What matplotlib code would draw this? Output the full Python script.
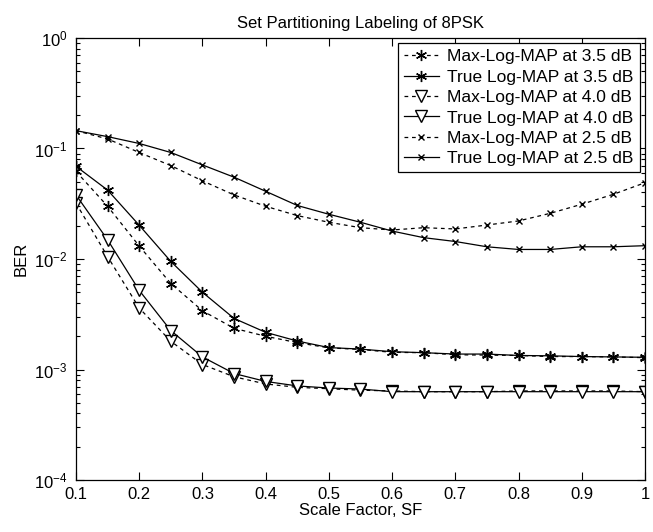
import matplotlib.pyplot as plt
from matplotlib.ticker import LogLocator, FixedLocator, NullFormatter

plt.rcParams['font.family'] = ['Liberation Sans', 'DejaVu Sans']
plt.rcParams['mathtext.fontset'] = 'custom'
plt.rcParams['mathtext.rm'] = 'Liberation Sans'

# scale factor SF
sf = [0.1, 0.15, 0.2, 0.25, 0.3, 0.35, 0.4, 0.45, 0.5, 0.55,
      0.6, 0.65, 0.7, 0.75, 0.8, 0.85, 0.9, 0.95, 1.0]

# BER curves
max_35 = [0.062, 0.030, 0.0131, 0.0060, 0.0034, 0.00236, 0.0020, 0.00175, 0.00157, 0.00152,
          0.00143, 0.00142, 0.00136, 0.00135, 0.00134, 0.00131, 0.00131, 0.00130, 0.00128]
true_35 = [0.069, 0.042, 0.0202, 0.0095, 0.0050, 0.0029, 0.00217, 0.00181, 0.00158, 0.00153,
           0.00145, 0.00142, 0.00138, 0.00138, 0.00134, 0.00133, 0.00131, 0.00130, 0.00129]
max_40 = [0.032, 0.0105, 0.0036, 0.0018, 0.00111, 0.00086, 0.00074, 0.00069, 0.00067, 0.00065,
          0.00064, 0.00063, 0.00063, 0.00063, 0.00064, 0.00064, 0.00064, 0.00064, 0.00063]
true_40 = [0.038, 0.0149, 0.0052, 0.00225, 0.0013, 0.00092, 0.00078, 0.00071, 0.00068, 0.000666,
           0.00063, 0.00063, 0.00063, 0.00063, 0.00063, 0.00063, 0.00063, 0.00063, 0.00063]
max_25 = [0.145, 0.122, 0.092, 0.070, 0.051, 0.038, 0.030, 0.0247, 0.0215, 0.0192,
          0.0183, 0.0192, 0.0187, 0.0203, 0.0221, 0.0259, 0.0313, 0.0385, 0.049]
true_25 = [0.145, 0.128, 0.111, 0.092, 0.071, 0.055, 0.041, 0.0305, 0.0254, 0.0215,
           0.0179, 0.0156, 0.0144, 0.0129, 0.0122, 0.0122, 0.0129, 0.0129, 0.0132]

labels = ['Max-Log-MAP at 3.5 dB', 'True Log-MAP at 3.5 dB',
          'Max-Log-MAP at 4.0 dB', 'True Log-MAP at 4.0 dB',
          'Max-Log-MAP at 2.5 dB', 'True Log-MAP at 2.5 dB']

fig = plt.figure(figsize=(6.53, 5.32), dpi=100)
ax = fig.add_axes([0.1164, 0.0977, 0.8713, 0.8309])

dash = (0, (3, 3))
star = (6, 2, 0)
kw = dict(color='black', linewidth=0.9)
tri = dict(marker='v', markersize=9, markerfacecolor='white', markeredgecolor='black')

ax.semilogy(sf, max_35, linestyle=dash, marker=star, markersize=8, label=labels[0], **kw)
ax.semilogy(sf, true_35, linestyle='-', marker=star, markersize=8, label=labels[1], **kw)
ax.semilogy(sf, max_40, linestyle=dash, label=labels[2], **tri, **kw)
ax.semilogy(sf, true_40, linestyle='-', label=labels[3], **tri, **kw)
ax.semilogy(sf, max_25, linestyle=dash, marker='x', markersize=5, label=labels[4], **kw)
ax.semilogy(sf, true_25, linestyle='-', marker='x', markersize=5, label=labels[5], **kw)

ax.set_xlim(0.1, 1.0)
ax.set_ylim(1e-4, 1e0)
xt = [0.1, 0.2, 0.3, 0.4, 0.5, 0.6, 0.7, 0.8, 0.9, 1.0]
ax.xaxis.set_major_locator(FixedLocator(xt))
ax.set_xticklabels(['0.1', '0.2', '0.3', '0.4', '0.5', '0.6', '0.7', '0.8', '0.9', '1'])
ax.yaxis.set_major_locator(LogLocator(base=10, numticks=10))
ax.yaxis.set_minor_locator(LogLocator(base=10, subs=range(2, 10), numticks=10))
ax.yaxis.set_minor_formatter(NullFormatter())

ax.tick_params(which='both', direction='in', top=True, right=True, labelsize=12, width=0.8)
ax.tick_params(which='major', length=6)
ax.tick_params(which='minor', length=3)
ax.tick_params(axis='x', pad=5)
ax.tick_params(axis='y', pad=6)
for s in ax.spines.values():
    s.set_linewidth(0.9)

ax.set_title('Set Partitioning Labeling of 8PSK', fontsize=12, pad=7)
ax.set_xlabel('Scale Factor, SF', fontsize=12, labelpad=1)
ax.set_ylabel('BER', fontsize=12, labelpad=4)

leg = ax.legend(loc='upper right', fontsize=12.5, fancybox=False, framealpha=1,
                edgecolor='black', handlelength=2.0, borderaxespad=0.3,
                labelspacing=0.3, borderpad=0.35, handletextpad=0.5)
leg.get_frame().set_linewidth(0.9)

fig.savefig('out.png', dpi=100)
